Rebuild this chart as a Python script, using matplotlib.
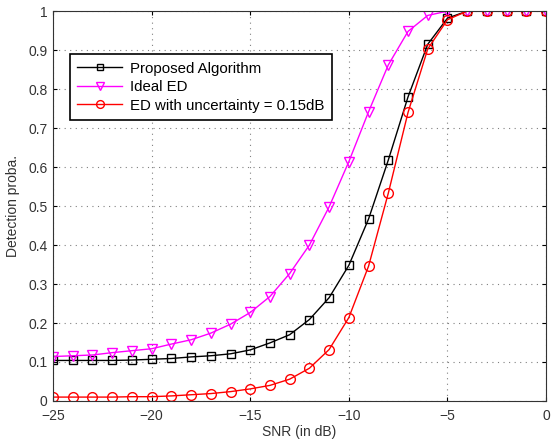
import numpy as np
import matplotlib
matplotlib.use("Agg")
import matplotlib.pyplot as plt

plt.rcParams["font.family"] = ["Liberation Sans", "DejaVu Sans"]
plt.rcParams["font.size"] = 10

snr = list(range(-25, 1))

proposed = [0.104, 0.104, 0.104, 0.104, 0.105, 0.107, 0.109, 0.113, 0.116, 0.121,
            0.131, 0.149, 0.170, 0.209, 0.265, 0.348, 0.467, 0.618, 0.780, 0.915,
            0.982, 1.0, 1.0, 1.0, 1.0, 1.0]
ideal = [0.114, 0.116, 0.118, 0.124, 0.129, 0.134, 0.146, 0.157, 0.174, 0.197,
         0.227, 0.268, 0.327, 0.400, 0.498, 0.614, 0.742, 0.862, 0.948, 0.989,
         1.0, 1.0, 1.0, 1.0, 1.0, 1.0]
uncert = [0.010, 0.010, 0.010, 0.010, 0.011, 0.011, 0.013, 0.016, 0.019, 0.024,
          0.031, 0.040, 0.056, 0.084, 0.132, 0.214, 0.346, 0.533, 0.740, 0.903,
          0.978, 1.0, 1.0, 1.0, 1.0, 1.0]

fig = plt.figure(figsize=(5.54, 4.42), dpi=100)
ax = fig.add_axes([0.0957, 0.0928, 0.890, 0.882])

ax.plot(snr, proposed, color="black", marker="s", mfc="none", ms=6, lw=1,
        label="Proposed Algorithm")
ax.plot(snr, ideal, color="magenta", marker="v", mfc="none", ms=7, lw=1,
        label="Ideal ED")
ax.plot(snr, uncert, color="red", marker="o", mfc="none", ms=7, lw=1,
        label="ED with uncertainty = 0.15dB")

ax.set_xlim(-25, 0)
ax.set_ylim(0, 1)
ax.set_xticks([-25, -20, -15, -10, -5, 0])
ax.set_yticks(np.arange(0, 1.01, 0.1))
ax.set_yticklabels(["0", "0.1", "0.2", "0.3", "0.4", "0.5", "0.6", "0.7", "0.8", "0.9", "1"])
ax.tick_params(direction="in", length=3, top=True, right=True, pad=4, labelcolor="#333333")
ax.tick_params(axis="x", pad=6)
ax.grid(True, linestyle=(0, (1, 4)), color="gray", lw=0.8)
for s in ax.spines.values():
    s.set_linewidth(0.8)
    s.set_color("#333333")

ax.set_xlabel("SNR (in dB)", color="#333333", labelpad=1)
ax.set_ylabel("Detection proba.", color="#333333", labelpad=6)

leg = ax.legend(loc="upper left", bbox_to_anchor=(0.034, 0.89), fancybox=False,
                edgecolor="black", framealpha=1, borderaxespad=0, fontsize=10.8,
                borderpad=0.5, handlelength=3.0, handletextpad=0.5, labelspacing=0.3,
                markerscale=0.8)
leg.get_frame().set_linewidth(1.2)

fig.savefig("out.png", dpi=100)
